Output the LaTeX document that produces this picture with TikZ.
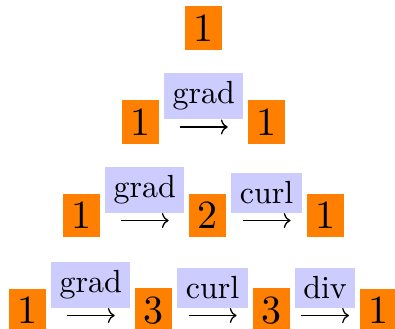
\documentclass[tikz,border=0pt]{standalone}
\usetikzlibrary{arrows.meta}
\begin{document}
\begin{tikzpicture}[
    numbox/.style={fill=orange, inner sep=2.125pt, outer sep=0pt, scale=2, font=\fontsize{10}{12}\selectfont},
    oplabel/.style={fill=blue!20, inner sep=2.656pt, outer sep=0pt, scale=1.6, font=\fontsize{10}{12}\selectfont, anchor=south west},
    oparrow/.style={line width=0.64pt, -{Computer Modern Rightarrow[length=3.4pt,width=7.5pt]}}
]
    % Frame
    \useasboundingbox (0,0) rectangle (197.5pt,164pt);

    % Top row
    \node[numbox] (a1) at (101.75pt,150pt) {1};

    % Second row: grad
    \node[numbox] (b1) at (70.25pt,103pt) {1};
    \node[oplabel] (bg) at ([shift={(2.5pt,1.5pt)}]b1.east) {grad};
    \node[numbox, anchor=west] (b2) at ([shift={(2.5pt,-1.5pt)}]bg.south east) {1};
    \draw[oparrow, shorten <=10.3pt, shorten >=10.3pt] ([yshift=-2.5pt]b1.east) -- ([yshift=-2.5pt]b2.west);

    % Third row: grad, curl
    \node[numbox] (c1) at (40.75pt,56.25pt) {1};
    \node[oplabel] (cg) at ([shift={(2.5pt,1.5pt)}]c1.east) {grad};
    \node[numbox, anchor=west] (c2) at ([shift={(2.5pt,-1.5pt)}]cg.south east) {2};
    \node[oplabel] (cc) at ([shift={(2.5pt,1.5pt)}]c2.east) {curl};
    \node[numbox, anchor=west] (c3) at ([shift={(2.5pt,-1.5pt)}]cc.south east) {1};
    \draw[oparrow, shorten <=10.3pt, shorten >=10.3pt] ([yshift=-2.5pt]c1.east) -- ([yshift=-2.5pt]c2.west);
    \draw[oparrow, shorten <=8.1pt, shorten >=8.1pt] ([yshift=-2.5pt]c2.east) -- ([yshift=-2.5pt]c3.west);

    % Bottom row: grad, curl, div
    \node[numbox] (d1) at (13.75pt,8.75pt) {1};
    \node[oplabel] (dg) at ([shift={(2.5pt,1.5pt)}]d1.east) {grad};
    \node[numbox, anchor=west] (d2) at ([shift={(2.5pt,-1.5pt)}]dg.south east) {3};
    \node[oplabel] (dc) at ([shift={(2.5pt,1.5pt)}]d2.east) {curl};
    \node[numbox, anchor=west] (d3) at ([shift={(2.5pt,-1.5pt)}]dc.south east) {3};
    \node[oplabel] (dd) at ([shift={(2.5pt,1.5pt)}]d3.east) {div};
    \node[numbox, anchor=west] (d4) at ([shift={(2.5pt,-1.5pt)}]dd.south east) {1};
    \draw[oparrow, shorten <=10.3pt, shorten >=10.3pt] ([yshift=-2.5pt]d1.east) -- ([yshift=-2.5pt]d2.west);
    \draw[oparrow, shorten <=8.1pt, shorten >=8.1pt] ([yshift=-2.5pt]d2.east) -- ([yshift=-2.5pt]d3.west);
    \draw[oparrow, shorten <=5.7pt, shorten >=5.7pt] ([yshift=-2.5pt]d3.east) -- ([yshift=-2.5pt]d4.west);
\end{tikzpicture}
\end{document}
